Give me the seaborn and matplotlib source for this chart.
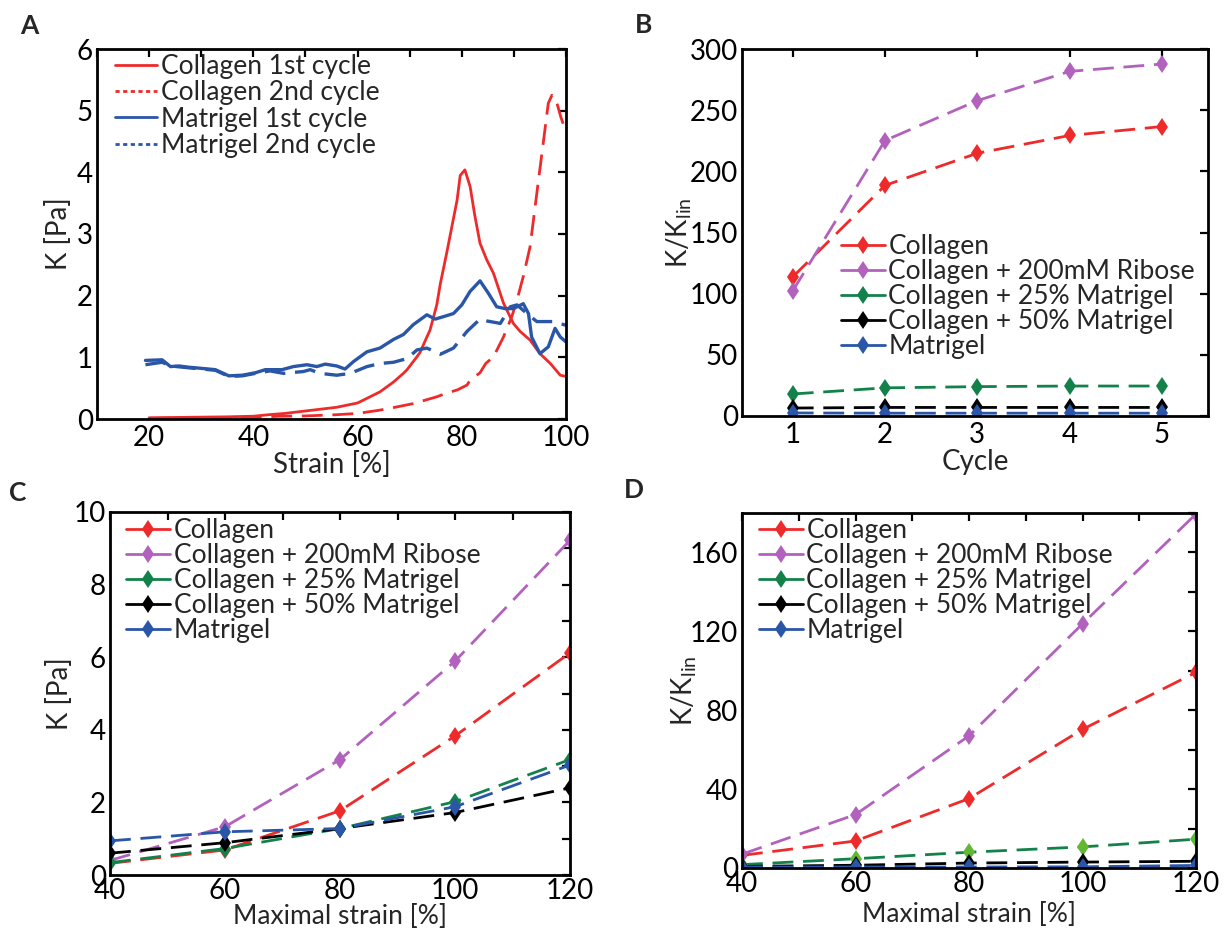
import numpy as np
import pandas as pd
import matplotlib
matplotlib.use("Agg")
import matplotlib.pyplot as plt
import seaborn as sns
from matplotlib.lines import Line2D
from matplotlib.ticker import MultipleLocator

# ---------------- data ----------------
# Panel A
colA1_x = [20, 25, 30, 35, 40, 43, 46, 50, 53, 56, 60, 62.4, 64.3, 65.6, 66.9, 68.8, 69.5, 71.4, 72, 73.3,
           73.9, 74.6, 75.2, 75.9, 77.1, 79.1, 79.7, 80.6, 81.6, 82.5, 83.5, 84.8, 86.1, 88, 89.9, 91.2,
           93.1, 95, 97, 98.9, 100]
colA1_y = [0.02, 0.025, 0.03, 0.035, 0.045, 0.07, 0.09, 0.13, 0.16, 0.19, 0.26, 0.36, 0.44, 0.52, 0.6, 0.74,
           0.8, 1.01, 1.08, 1.33, 1.44, 1.66, 1.85, 2.2, 2.69, 3.55, 3.95, 4.04, 3.77, 3.3, 2.85, 2.58, 2.36,
           1.88, 1.55, 1.42, 1.28, 1.06, 0.9, 0.71, 0.69]
colA2_x = [20, 30, 40, 45, 50, 53, 56, 60, 64, 66, 70.7, 75.2, 77.1, 79.1, 81, 81.6, 83.5, 84.6, 86.1, 88,
           89.6, 90.6, 91.8, 93.1, 94.4, 95.7, 96.6, 97.3, 98, 99, 100]
colA2_y = [0.01, 0.02, 0.03, 0.045, 0.05, 0.06, 0.07, 0.09, 0.14, 0.17, 0.25, 0.36, 0.42, 0.47, 0.55, 0.63,
           0.75, 0.9, 1.01, 1.33, 1.66, 1.93, 2.31, 2.79, 3.66, 4.52, 5.12, 5.25, 5.2, 4.9, 4.65]
matA1_x = [19.3, 22.5, 24.1, 25.7, 27.6, 30.2, 32.7, 35.3, 37.9, 40.4, 42.3, 45.5, 47.7, 50.3, 52.2, 53.8,
           56, 57.6, 59.2, 61.8, 64.3, 66.9, 68.8, 70.7, 73.3, 74.9, 76.5, 78.4, 80, 81.6, 83.5, 85.1, 86.7,
           88.3, 89.9, 91.8, 92.8, 93.4, 95, 96.6, 97.9, 98.9, 100]
matA1_y = [0.95, 0.96, 0.85, 0.86, 0.84, 0.82, 0.8, 0.7, 0.71, 0.75, 0.8, 0.8, 0.85, 0.88, 0.85, 0.89, 0.86,
           0.81, 0.93, 1.09, 1.15, 1.29, 1.37, 1.53, 1.69, 1.62, 1.66, 1.71, 1.85, 2.07, 2.24, 2.04, 1.82,
           1.79, 1.79, 1.87, 1.71, 1.33, 1.06, 1.17, 1.47, 1.33, 1.25]
matA2_x = [19.3, 22.5, 24.1, 27.6, 30.2, 32.7, 35.3, 37.9, 40.4, 43.2, 45.8, 49.6, 50.9, 52.8, 56, 58.6,
           61.8, 64.3, 66.9, 69.5, 71.4, 73.3, 75.9, 78.4, 81, 83.5, 84.8, 87.4, 89.3, 90.6, 92.5, 94.4,
           97.6, 100]
matA2_y = [0.88, 0.92, 0.86, 0.83, 0.81, 0.79, 0.69, 0.7, 0.74, 0.78, 0.74, 0.77, 0.8, 0.74, 0.71, 0.74,
           0.85, 0.9, 0.92, 0.98, 1.12, 1.15, 1.05, 1.15, 1.42, 1.62, 1.59, 1.55, 1.82, 1.85, 1.71, 1.58,
           1.58, 1.52]

# Panels B-D
series_names = ["Collagen", "Collagen + 200mM Ribose", "Collagen + 25% Matrigel",
                "Collagen + 50% Matrigel", "Matrigel"]
cycles = [1, 2, 3, 4, 5]
B_collagen = [113.7, 188.5, 214.8, 229.3, 236.6]
B_ribose = [102.3, 225.2, 257.8, 281.7, 287.7]
B_m25 = [18.0, 23.0, 24.0, 24.5, 24.5]
B_m50 = [6.5, 7.0, 7.0, 7.0, 7.0]
B_matrigel = [2.5, 2.3, 2.3, 2.3, 2.3]

strain = [40, 60, 80, 100, 120]
C_collagen = [0.32, 0.69, 1.77, 3.83, 6.12]
C_ribose = [0.40, 1.33, 3.18, 5.89, 9.22]
C_m25 = [0.34, 0.73, 1.28, 2.02, 3.18]
C_m50 = [0.60, 0.89, 1.28, 1.72, 2.40]
C_matrigel = [0.94, 1.19, 1.28, 1.88, 3.03]

D_collagen = [6.4, 13.7, 35.2, 70.3, 99.2]
D_ribose = [7.0, 27.1, 67.0, 123.8, 179.5]
D_m25 = [1.7, 4.7, 8.0, 10.7, 14.6]
D_m50 = [0.8, 1.4, 2.5, 3.0, 3.4]
D_matrigel = [0.5, 0.5, 0.5, 0.6, 1.3]

# ---------------- style ----------------
sns.set_theme(style="white")
plt.rcParams["font.family"] = ["Lato", "DejaVu Sans"]
plt.rcParams["mathtext.default"] = "regular"
plt.rcParams["lines.scale_dashes"] = False

RED = "#ee2a2a"
PURPLE = "#b262bd"
GREEN = "#13824a"
LGREEN = "#62b832"
BLACK = "#000000"
BLUE = "#2a56a8"
colors = [RED, PURPLE, GREEN, BLACK, BLUE]
DASH = (0, (15, 7))

FS = 20       # ticks & axis labels
LFS = 19      # legends
W, H = 1229, 931
fig = plt.figure(figsize=(W / 100, H / 100), dpi=100)


def add_axes(l, r, t, b):
    return fig.add_axes([l / W, 1 - b / H, (r - l) / W, (b - t) / H])


axA = add_axes(97, 566, 49, 419)
axB = add_axes(742, 1208, 49, 416)
axC = add_axes(110, 570, 512, 875)
axD = add_axes(742, 1196, 513, 868)


def draw(ax, x, y, color, dashed=True, marker=None, lw=2.0, mfc=None):
    df = pd.DataFrame({"x": x, "y": y})
    sns.lineplot(data=df, x="x", y="y", ax=ax, color=color, marker=marker,
                 markersize=9.5, markeredgewidth=0, linewidth=lw, sort=False,
                 estimator=None, legend=False)
    line = ax.lines[-1]
    if dashed:
        line.set_linestyle(DASH)
    if mfc is not None:
        line.set_markerfacecolor(mfc)
        line.set_markeredgecolor(mfc)
    return line


def style(ax, xpad=4):
    for s in ax.spines.values():
        s.set_linewidth(2)
        s.set_color("black")
        s.set_visible(True)
    ax.tick_params(which="both", direction="in", top=True, right=True,
                   length=6, width=1.6, labelsize=FS, colors="black")
    ax.tick_params(axis="x", pad=xpad)
    ax.tick_params(axis="y", pad=3)
    ax.set_xlabel("")
    ax.set_ylabel("")


# ---- Panel A
draw(axA, colA1_x, colA1_y, RED, dashed=False, lw=2.0)
draw(axA, colA2_x, colA2_y, RED, dashed=True, lw=2.0)
draw(axA, matA1_x, matA1_y, BLUE, dashed=False, lw=2.4)
draw(axA, matA2_x, matA2_y, BLUE, dashed=True, lw=2.4)
style(axA)
axA.set_xlim(10, 100)
axA.set_ylim(0, 6)
axA.set_xticks([20, 40, 60, 80, 100])
axA.xaxis.set_minor_locator(MultipleLocator(10))
axA.yaxis.set_major_locator(MultipleLocator(1))
handlesA = [Line2D([], [], color=RED, lw=2), Line2D([], [], color=RED, lw=2, ls=(0, (3, 2.5))),
            Line2D([], [], color=BLUE, lw=2), Line2D([], [], color=BLUE, lw=2, ls=(0, (3, 2.5)))]
labelsA = ["Collagen 1st cycle", "Collagen 2nd cycle", "Matrigel 1st cycle", "Matrigel 2nd cycle"]
axA.legend(handlesA, labelsA, loc="upper left", bbox_to_anchor=(115 / W, 1 - 54 / H),
           bbox_transform=fig.transFigure, frameon=False, fontsize=LFS, handlelength=1.6,
           handletextpad=0.15, labelspacing=0.05, borderpad=0, borderaxespad=0)


def multi(ax, x, ys, mfcs=None):
    for i, (y, c) in enumerate(zip(ys, colors)):
        mfc = None if mfcs is None else mfcs[i]
        draw(ax, x, y, c, dashed=True, marker="d", lw=2.0, mfc=mfc)


def legend_multi(ax, x_px, y_px):
    hs = [Line2D([], [], color=c, lw=2, marker="d", markersize=9.5, markeredgewidth=0) for c in colors]
    ax.legend(hs, series_names, loc="upper left", bbox_to_anchor=(x_px / W, 1 - y_px / H),
              bbox_transform=fig.transFigure, frameon=False, fontsize=LFS, handlelength=1.65,
              handletextpad=0.15, labelspacing=0.0, borderpad=0, borderaxespad=0)


# ---- Panel B
multi(axB, cycles, [B_collagen, B_ribose, B_m25, B_m50, B_matrigel])
style(axB)
axB.set_xlim(0.45, 5.5)
axB.set_ylim(0, 300)
axB.set_xticks(cycles)
axB.yaxis.set_major_locator(MultipleLocator(50))
legend_multi(axB, 841, 234)

# ---- Panel C
multi(axC, strain, [C_collagen, C_ribose, C_m25, C_m50, C_matrigel])
style(axC, xpad=2)
axC.set_xlim(40, 120)
axC.set_ylim(0, 10)
axC.set_xticks(strain)
axC.xaxis.set_minor_locator(MultipleLocator(10))
axC.yaxis.set_major_locator(MultipleLocator(2))
axC.yaxis.set_minor_locator(MultipleLocator(1))
legend_multi(axC, 126, 518)

# ---- Panel D
multi(axD, strain, [D_collagen, D_ribose, D_m25, D_m50, D_matrigel],
      mfcs=[None, None, LGREEN, None, None])
style(axD, xpad=2)
axD.set_xlim(40, 120)
axD.set_ylim(0, 180)
axD.set_xticks(strain)
axD.xaxis.set_minor_locator(MultipleLocator(10))
axD.yaxis.set_major_locator(MultipleLocator(40))
axD.yaxis.set_minor_locator(MultipleLocator(20))
legend_multi(axD, 759, 518)


# ---- axis labels
def labels(ax, xl, yl, xy, yx, xfs=FS):
    ax.set_xlabel(xl, fontsize=xfs, va="center")
    ax.xaxis.set_label_coords(0.5, xy)
    ax.set_ylabel(yl, fontsize=FS, va="center")
    ax.yaxis.set_label_coords(yx, 0.5)


labels(axA, "Strain [%]", "K [Pa]", -0.123, (59 - 97) / 469)
labels(axB, "Cycle", "K/K$_{lin}$", -0.126, (679 - 742) / 466)
labels(axC, "Maximal strain [%]", "K [Pa]", (875 - 916.5) / 363, (59 - 110) / 460, xfs=19)
labels(axD, "Maximal strain [%]", "K/K$_{lin}$", (868 - 914) / 355, (684 - 742) / 454, xfs=19)

# ---- panel letters
for t, x, y in [("A", 29, 26), ("B", 644, 25), ("C", 18, 493), ("D", 634, 490)]:
    fig.text(x / W, 1 - y / H, t, fontsize=FS - 1, fontweight="bold", ha="center", va="center")

fig.savefig("out.png", dpi=100)
